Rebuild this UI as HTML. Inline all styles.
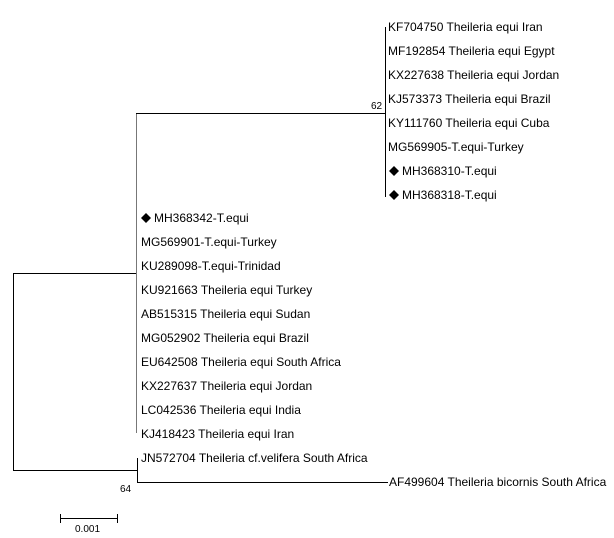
<!DOCTYPE html>
<html><head><style>body{margin:0;background:#fff}svg{display:block}text{font-family:"Liberation Sans",Arial,sans-serif;font-size:12px;fill:#000}</style></head>
<body>
<svg width="614" height="538" viewBox="0 0 614 538">
<g stroke="#000" stroke-width="1" fill="none" shape-rendering="crispEdges">
<line x1="13.5" y1="273" x2="13.5" y2="470.5"/>
<line x1="13" y1="273.5" x2="136" y2="273.5"/>
<line x1="13" y1="470.5" x2="137" y2="470.5"/>
<line x1="136.5" y1="113" x2="136.5" y2="433" stroke="#777"/>
<line x1="136" y1="113.5" x2="385" y2="113.5"/>
<line x1="385.5" y1="27" x2="385.5" y2="197" stroke="#000"/>
<line x1="137.5" y1="458" x2="137.5" y2="482.5"/>
<line x1="137" y1="482.5" x2="388" y2="482.5"/>
<line x1="60" y1="518.5" x2="118" y2="518.5"/>
<line x1="60.5" y1="514" x2="60.5" y2="523"/>
<line x1="117.5" y1="514" x2="117.5" y2="523"/>
</g>
<g>
<text x="388" y="31">KF704750 Theileria equi Iran</text>
<text x="388" y="55">MF192854 Theileria equi Egypt</text>
<text x="388" y="79">KX227638 Theileria equi Jordan</text>
<text x="388" y="103">KJ573373 Theileria equi Brazil</text>
<text x="388" y="127">KY111760 Theileria equi Cuba</text>
<text x="388" y="151">MG569905-T.equi-Turkey</text>
<path d="M394 166 L399 171 L394 176 L389 171 Z" fill="#000"/>
<text x="402" y="175">MH368310-T.equi</text>
<path d="M394 190 L399 195 L394 200 L389 195 Z" fill="#000"/>
<text x="402" y="199">MH368318-T.equi</text>
<text x="371" y="109" style="font-size:10px">62</text>

<path d="M146 213 L151 218 L146 223 L141 218 Z" fill="#000"/>
<text x="154" y="222">MH368342-T.equi</text>
<text x="141" y="246">MG569901-T.equi-Turkey</text>
<text x="141" y="270">KU289098-T.equi-Trinidad</text>
<text x="141" y="294">KU921663 Theileria equi Turkey</text>
<text x="141" y="318">AB515315 Theileria equi Sudan</text>
<text x="141" y="342">MG052902 Theileria equi Brazil</text>
<text x="141" y="366">EU642508 Theileria equi South Africa</text>
<text x="141" y="390">KX227637 Theileria equi Jordan</text>
<text x="141" y="414">LC042536 Theileria equi India</text>
<text x="141" y="438">KJ418423 Theileria equi Iran</text>
<text x="141" y="462">JN572704 Theileria cf.velifera South Africa</text>
<text x="389" y="486">AF499604 Theileria bicornis South Africa</text>
<text x="120" y="492" style="font-size:10px">64</text>
<text x="75" y="532" style="font-size:10px">0.001</text>
</g>
</svg>
</body></html>
